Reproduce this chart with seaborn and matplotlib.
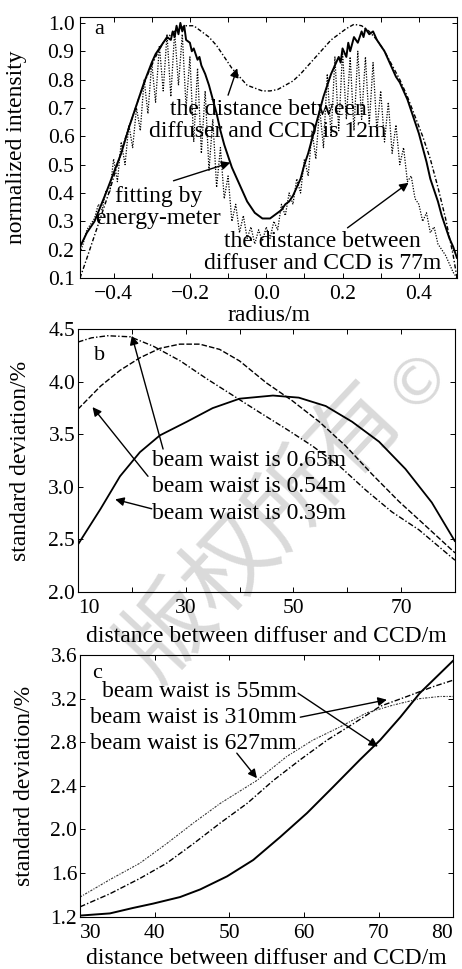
import matplotlib
matplotlib.use("Agg")
import matplotlib.pyplot as plt
import seaborn as sns
import numpy as np

# ---------------- data: panel a ----------------
fit_r = [-0.488, -0.47, -0.45, -0.435, -0.42, -0.40, -0.38, -0.36, -0.34, -0.32, -0.30, -0.29, -0.28,
         -0.27, -0.26, -0.25, -0.245, -0.24, -0.235, -0.23, -0.225, -0.22, -0.215, -0.21, -0.20, -0.195,
         -0.19, -0.18, -0.175, -0.17, -0.16, -0.15, -0.14, -0.13, -0.12, -0.11, -0.10, -0.09, -0.08,
         -0.07, -0.06, -0.05, -0.04, -0.03, -0.02, -0.01, 0.00, 0.01, 0.02, 0.03, 0.04, 0.05, 0.06,
         0.07, 0.08, 0.09, 0.10, 0.11, 0.12, 0.13, 0.14, 0.15, 0.16, 0.17, 0.18, 0.19, 0.195, 0.20,
         0.21, 0.215, 0.22, 0.23, 0.24, 0.25, 0.255, 0.26, 0.27, 0.28, 0.29, 0.30, 0.31, 0.32, 0.33,
         0.34, 0.35, 0.36, 0.37, 0.38, 0.39, 0.40, 0.41, 0.42, 0.43, 0.44, 0.45, 0.46, 0.47, 0.48,
         0.49, 0.50]
fit_i = [0.21, 0.26, 0.30, 0.35, 0.40, 0.47, 0.54, 0.63, 0.71, 0.79, 0.86, 0.89, 0.91,
         0.93, 0.95, 0.94, 0.97, 0.95, 0.99, 0.96, 1.00, 0.97, 0.99, 0.94, 0.93, 0.90,
         0.91, 0.87, 0.88, 0.85, 0.82, 0.78, 0.73, 0.68, 0.62, 0.57, 0.53, 0.49, 0.46,
         0.43, 0.40, 0.37, 0.35, 0.33, 0.32, 0.31, 0.31, 0.31, 0.32, 0.33, 0.34, 0.36, 0.37,
         0.39, 0.42, 0.45, 0.50, 0.54, 0.59, 0.64, 0.69, 0.74, 0.78, 0.82, 0.85, 0.88, 0.86, 0.91,
         0.88, 0.93, 0.90, 0.95, 0.93, 0.97, 0.95, 0.98, 0.96, 0.97, 0.94, 0.92, 0.90, 0.87, 0.84,
         0.81, 0.79, 0.76, 0.73, 0.69, 0.65, 0.61, 0.56, 0.51, 0.45, 0.41, 0.37, 0.32, 0.28, 0.24,
         0.21, 0.17]

d12_r = [-0.488, -0.47, -0.45, -0.43, -0.41, -0.39, -0.37, -0.35, -0.33, -0.31, -0.29, -0.27, -0.25,
         -0.23, -0.21, -0.19, -0.17, -0.15, -0.13, -0.11, -0.09, -0.07, -0.05, -0.03, -0.01, 0.01,
         0.03, 0.05, 0.07, 0.09, 0.11, 0.13, 0.15, 0.17, 0.19, 0.21, 0.23, 0.25, 0.27, 0.29, 0.31,
         0.33, 0.35, 0.37, 0.39, 0.41, 0.43, 0.45, 0.47, 0.49, 0.50]
d12_i = [0.10, 0.17, 0.25, 0.33, 0.41, 0.50, 0.59, 0.67, 0.75, 0.82, 0.88, 0.93, 0.96,
         0.98, 0.99, 0.99, 0.97, 0.95, 0.92, 0.88, 0.84, 0.81, 0.78, 0.77, 0.76, 0.76,
         0.765, 0.78, 0.795, 0.82, 0.85, 0.88, 0.91, 0.94, 0.96, 0.98, 0.995, 0.99, 0.97, 0.94, 0.90,
         0.85, 0.80, 0.74, 0.67, 0.60, 0.52, 0.42, 0.31, 0.18, 0.10]

d77_r = [-0.488, -0.48, -0.47, -0.46, -0.45, -0.44, -0.43, -0.42, -0.41, -0.40, -0.39, -0.38, -0.37,
         -0.36, -0.35, -0.34, -0.33, -0.32, -0.31, -0.30, -0.29, -0.28, -0.27, -0.26, -0.25, -0.24,
         -0.23, -0.22, -0.21, -0.20, -0.19, -0.18, -0.17, -0.16, -0.15, -0.14, -0.13, -0.12, -0.11,
         -0.10, -0.09, -0.08, -0.07, -0.06, -0.05, -0.04, -0.03, -0.02, -0.01, 0.00, 0.01, 0.02, 0.03,
         0.04, 0.05, 0.06, 0.07, 0.08, 0.09, 0.10, 0.11, 0.12, 0.13, 0.14, 0.15, 0.16, 0.17, 0.18,
         0.19, 0.20, 0.21, 0.22, 0.23, 0.24, 0.25, 0.26, 0.27, 0.28, 0.29, 0.30, 0.31, 0.32, 0.33,
         0.34, 0.35, 0.36, 0.37, 0.38, 0.39, 0.40, 0.41, 0.42, 0.43, 0.44, 0.45, 0.46, 0.47, 0.48,
         0.49, 0.50]
d77_i = [0.19, 0.22, 0.27, 0.29, 0.31, 0.36, 0.34, 0.41, 0.40, 0.52, 0.44, 0.58, 0.50,
         0.64, 0.56, 0.70, 0.62, 0.80, 0.68, 0.86, 0.72, 0.92, 0.76, 0.96, 0.74, 0.97,
         0.78, 0.96, 0.70, 0.88, 0.58, 0.84, 0.54, 0.76, 0.48, 0.66, 0.42, 0.56, 0.38,
         0.46, 0.30, 0.36, 0.26, 0.32, 0.24, 0.28, 0.22, 0.27, 0.23, 0.28, 0.24, 0.30, 0.27,
         0.36, 0.32, 0.40, 0.36, 0.45, 0.40, 0.52, 0.46, 0.62, 0.52, 0.70, 0.56, 0.82, 0.60, 0.88,
         0.62, 0.90, 0.66, 0.88, 0.62, 0.90, 0.66, 0.88, 0.64, 0.86, 0.62, 0.76, 0.58, 0.72, 0.54,
         0.64, 0.50, 0.56, 0.44, 0.46, 0.38, 0.36, 0.30, 0.33, 0.26, 0.28, 0.22, 0.20, 0.18, 0.15,
         0.12, 0.10]

a_xticks = [-0.4, -0.3, -0.2, -0.1, 0.0, 0.1, 0.2, 0.3, 0.4]
a_xticklabels = ["\u22120.4", "", "\u22120.2", "", "0.0", "", "0.2", "", "0.4"]
a_yticks = [0.1, 0.2, 0.3, 0.4, 0.5, 0.6, 0.7, 0.8, 0.9, 1.0]

# ---------------- data: panel b ----------------
b_dist_039 = [10, 14.2, 17.8, 21.5, 25.2, 30.2, 35.0, 40.0, 46.2, 51.0, 56.0, 60.9, 65.9, 70.8, 75.7, 80]
b_sd_039 = [2.45, 2.79, 3.10, 3.33, 3.49, 3.62, 3.75, 3.84, 3.87, 3.85, 3.77, 3.62, 3.43, 3.17, 2.85, 2.48]
b_dist_054 = [10, 14.2, 17.8, 21.5, 25.2, 28.9, 32.6, 36.3, 40.0, 45.0, 49.8, 54.8, 59.7, 64.6, 69.6, 74.5, 80]
b_sd_054 = [3.74, 3.96, 4.11, 4.23, 4.32, 4.36, 4.36, 4.31, 4.20, 3.99, 3.82, 3.62, 3.39, 3.12, 2.86, 2.63, 2.37]
b_dist_065 = [10, 12.5, 15.5, 19.7, 24.0, 29.0, 33.9, 38.8, 43.7, 48.7, 53.5, 58.5, 63.4, 68.3, 73.3, 80]
b_sd_065 = [4.38, 4.42, 4.44, 4.43, 4.34, 4.20, 4.03, 3.87, 3.71, 3.55, 3.39, 3.20, 2.97, 2.76, 2.59, 2.30]
b_xticks = [10, 20, 30, 40, 50, 60, 70, 80]
b_xticklabels = ["10", "", "30", "", "50", "", "70", ""]
b_yticks = [2.0, 2.5, 3.0, 3.5, 4.0, 4.5]

# ---------------- data: panel c ----------------
c_dist_55 = [30, 34.0, 37.1, 39.8, 43.4, 46.1, 49.7, 53.2, 56.8, 60.4, 63.9, 67.5, 70.2, 72.9, 75.5, 78.2, 80]
c_sd_55 = [1.21, 1.23, 1.28, 1.32, 1.38, 1.45, 1.57, 1.72, 1.93, 2.15, 2.39, 2.64, 2.82, 3.03, 3.25, 3.43, 3.55]
c_dist_310 = [30, 34.0, 38.0, 41.6, 45.2, 48.8, 52.4, 55.9, 59.5, 63.1, 66.6, 70.2, 73.8, 77.3, 80]
c_sd_310 = [1.29, 1.41, 1.55, 1.69, 1.87, 2.06, 2.24, 2.45, 2.64, 2.82, 2.97, 3.13, 3.22, 3.31, 3.37]
c_dist_627 = [30, 34.0, 38.0, 41.6, 45.2, 48.8, 53.7, 57.7, 61.2, 64.8, 68.4, 71.9, 75.5, 78.2, 80]
c_sd_627 = [1.38, 1.54, 1.69, 1.87, 2.06, 2.24, 2.45, 2.67, 2.82, 2.94, 3.07, 3.14, 3.20, 3.22, 3.22]
c_xticks = [30, 40, 50, 60, 70, 80]
c_yticks = [1.2, 1.6, 2.0, 2.4, 2.8, 3.2, 3.6]

# ---------------- style ----------------
sns.set_theme(style="ticks")
plt.rcParams["font.family"] = ["Liberation Serif", "DejaVu Serif"]
plt.rcParams["axes.linewidth"] = 0.8
plt.rcParams["axes.edgecolor"] = "black"
plt.rcParams["text.color"] = "black"
plt.rcParams["axes.labelcolor"] = "black"
plt.rcParams["xtick.color"] = "black"
plt.rcParams["ytick.color"] = "black"

TICK_FS = 15.5
LAB_FS = 17
ANN_FS = 17

fig = plt.figure(figsize=(4.62, 9.69), dpi=100)
fig.patch.set_facecolor("white")

# watermark
fig.text(0.569, 0.451, "版权所有", rotation=47, fontsize=66, color="#dadada",
         family=["Noto Sans CJK SC", "DejaVu Sans"], ha="center", va="center",
         rotation_mode="anchor", zorder=-5)
fig.text(0.905, 0.610, "©", rotation=47, fontsize=46, color="#dadada",
         family=["DejaVu Sans"], ha="center", va="center",
         rotation_mode="anchor", zorder=-5)

ax_a = fig.add_axes([0.1732, 0.7131, 0.816, 0.2697])
ax_b = fig.add_axes([0.1688, 0.3894, 0.816, 0.2706])
ax_c = fig.add_axes([0.1732, 0.0540, 0.808, 0.2700])

for ax in (ax_a, ax_b, ax_c):
    ax.set_facecolor("none")
    ax.tick_params(direction="in", top=True, right=True, length=3.5, width=0.7,
                   labelsize=TICK_FS)
    for s in ax.spines.values():
        s.set_visible(True)
        s.set_color("black")
        s.set_linewidth(0.8)

arrow = dict(arrowstyle="-|>", color="black", lw=1.0, mutation_scale=13, shrinkA=0, shrinkB=0)

# ---------------- panel a ----------------
sns.lineplot(x=d77_r, y=d77_i, ax=ax_a, color="black", lw=0.9, linestyle=(0, (1, 1.2)),
             estimator=None, sort=False)
sns.lineplot(x=d12_r, y=d12_i, ax=ax_a, color="black", lw=1.0, linestyle=(0, (3, 1.5, 1, 1.5)),
             estimator=None, sort=False)
sns.lineplot(x=fit_r, y=fit_i, ax=ax_a, color="black", lw=1.4, estimator=None, sort=False)
ax_a.set_xlim(-0.488, 0.5)
ax_a.set_ylim(0.1, 1.022)
ax_a.set_xticks(a_xticks)
ax_a.set_xticklabels(a_xticklabels)
ax_a.set_yticks(a_yticks)
ax_a.set_yticklabels([f"{v:.1f}" for v in a_yticks])
ax_a.tick_params(axis="x", pad=5)
ax_a.tick_params(axis="y", pad=4)
ax_a.set_xlabel("radius/m", fontsize=LAB_FS)
ax_a.set_ylabel("normalized intensity", fontsize=LAB_FS)
ax_a.xaxis.set_label_coords(0.5, -0.105)
ax_a.yaxis.set_label_coords(-0.14, 0.5)
ax_a.text(0.05, 0.95, "a", transform=ax_a.transAxes, fontsize=16, ha="center", va="center")
ax_a.text(0.005, 0.656, "the distance between\ndiffuser and CCD is 12m",
          fontsize=ANN_FS, ha="center", va="center", linespacing=1.05)
ax_a.annotate("", xy=(-0.076, 0.84), xytext=(-0.10, 0.745), arrowprops=dict(arrow))
ax_a.text(-0.283, 0.35, "fitting by\nenergy-meter",
          fontsize=ANN_FS, ha="center", va="center", linespacing=1.05)
ax_a.annotate("", xy=(-0.094, 0.507), xytext=(-0.243, 0.443), arrowprops=dict(arrow))
ax_a.text(0.147, 0.19, "the distance between\ndiffuser and CCD is 77m",
          fontsize=ANN_FS, ha="center", va="center", linespacing=1.05)
ax_a.annotate("", xy=(0.373, 0.436), xytext=(0.213, 0.277), arrowprops=dict(arrow))

# ---------------- panel b ----------------
sns.lineplot(x=b_dist_039, y=b_sd_039, ax=ax_b, color="black", lw=1.3, estimator=None, sort=False)
sns.lineplot(x=b_dist_054, y=b_sd_054, ax=ax_b, color="black", lw=1.0, linestyle=(0, (4, 1.5)),
             estimator=None, sort=False)
sns.lineplot(x=b_dist_065, y=b_sd_065, ax=ax_b, color="black", lw=1.0, linestyle=(0, (4, 1.5, 1, 1.5)),
             estimator=None, sort=False)
ax_b.set_xlim(10, 80)
ax_b.set_ylim(2.0, 4.5)
ax_b.set_xticks(b_xticks)
ax_b.set_xticklabels(b_xticklabels)
ax_b.get_xticklabels()[0].set_horizontalalignment("left")
ax_b.set_yticks(b_yticks)
ax_b.set_yticklabels([f"{v:.1f}" for v in b_yticks])
ax_b.tick_params(axis="x", pad=5)
ax_b.tick_params(axis="y", pad=2)
ax_b.set_xlabel("distance between diffuser and CCD/m", fontsize=LAB_FS)
ax_b.set_ylabel("standard deviation/%", fontsize=LAB_FS)
ax_b.xaxis.set_label_coords(0.5, -0.13)
ax_b.yaxis.set_label_coords(-0.125, 0.5)
ax_b.text(0.058, 0.90, "b", transform=ax_b.transAxes, fontsize=16, ha="center", va="center")
ax_b.text(23.8, 3.25, "beam waist is 0.65m", fontsize=ANN_FS, ha="left", va="center")
ax_b.text(23.8, 3.00, "beam waist is 0.54m", fontsize=ANN_FS, ha="left", va="center")
ax_b.text(23.8, 2.75, "beam waist is 0.39m", fontsize=ANN_FS, ha="left", va="center")
ax_b.annotate("", xy=(20.0, 4.44), xytext=(25.8, 3.36), arrowprops=dict(arrow))
ax_b.annotate("", xy=(12.7, 3.76), xytext=(23.0, 3.10), arrowprops=dict(arrow))
ax_b.annotate("", xy=(16.9, 2.88), xytext=(23.7, 2.79), arrowprops=dict(arrow))

# ---------------- panel c ----------------
sns.lineplot(x=c_dist_627, y=c_sd_627, ax=ax_c, color="#333333", lw=0.8, linestyle=(0, (2, 1.2, 1, 1.2)),
             estimator=None, sort=False)
sns.lineplot(x=c_dist_310, y=c_sd_310, ax=ax_c, color="black", lw=1.0, linestyle=(0, (4, 1.5, 1, 1.5)),
             estimator=None, sort=False)
sns.lineplot(x=c_dist_55, y=c_sd_55, ax=ax_c, color="black", lw=1.4, estimator=None, sort=False)
ax_c.set_xlim(30, 80)
ax_c.set_ylim(1.2, 3.6)
ax_c.set_xticks(c_xticks)
ax_c.set_xticklabels([str(v) for v in c_xticks])
ax_c.get_xticklabels()[0].set_horizontalalignment("left")
ax_c.get_xticklabels()[-1].set_horizontalalignment("right")
ax_c.set_yticks(c_yticks)
ax_c.set_yticklabels([f"{v:.1f}" for v in c_yticks])
ax_c.tick_params(axis="x", pad=5)
ax_c.tick_params(axis="y", pad=2)
ax_c.set_xlabel("distance between diffuser and CCD/m", fontsize=LAB_FS)
ax_c.set_ylabel("standard deviation/%", fontsize=LAB_FS)
ax_c.xaxis.set_label_coords(0.5, -0.12)
ax_c.yaxis.set_label_coords(-0.12, 0.5)
ax_c.text(0.045, 0.93, "c", transform=ax_c.transAxes, fontsize=16, ha="center", va="center")
ax_c.text(32.9, 3.27, "beam waist is 55mm", fontsize=ANN_FS, ha="left", va="center")
ax_c.text(31.3, 3.03, "beam waist is 310mm", fontsize=ANN_FS, ha="left", va="center")
ax_c.text(31.3, 2.79, "beam waist is 627mm", fontsize=ANN_FS, ha="left", va="center")
ax_c.annotate("", xy=(69.9, 2.76), xytext=(59.2, 3.25), arrowprops=dict(arrow))
ax_c.annotate("", xy=(71.1, 3.19), xytext=(59.5, 3.03), arrowprops=dict(arrow))
ax_c.annotate("", xy=(53.7, 2.47), xytext=(51.0, 2.70), arrowprops=dict(arrow))

for ax in (ax_a, ax_b, ax_c):
    leg = ax.get_legend()
    if leg is not None:
        leg.remove()

fig.savefig("out.png", dpi=100, facecolor="white")
